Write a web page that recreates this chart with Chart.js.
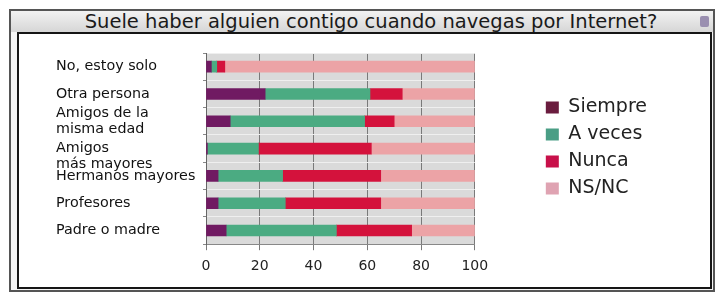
<!DOCTYPE html>
<html lang="es">
<head>
    <meta charset="UTF-8">
    <title>Suele haber alguien contigo</title>
    <script src="https://cdn.jsdelivr.net/npm/chart.js"></script>
    <style>
        body { margin: 0; background: #fff; font-family: "DejaVu Sans", Verdana, sans-serif; }
        #frame { position: absolute; left: 9px; top: 9px; width: 702px; height: 279px;
                 border: 2px solid #555; background: #f4f4f4; }
        #title { position: absolute; left: 0; top: 0; width: 100%; height: 21px; line-height: 22px;
                 text-align: center; font-size: 19.5px; color: #1a1a1a; text-indent: 18px;
                 background: linear-gradient(#f2f2f2, #d6d6d6); }
        #icon { position: absolute; right: 4px; top: 5px; width: 9px; height: 11px;
                background: #9a8fb0; border-radius: 2px; }
        #box { position: absolute; left: 6px; top: 21px; width: 691px; height: 253px;
               border: 2px solid #151515; background: #fff; }
    </style>
</head>
<body>
    <div id="frame">
        <div id="title">Suele haber alguien contigo cuando navegas por Internet?</div>
        <div id="icon"></div>
        <div id="box"><canvas id="chart" width="691" height="253"></canvas></div>
    </div>
    <script>
        // categories (top to bottom) and series, in percent
        var categorias = ['No, estoy solo', 'Otra persona', ['Amigos de la', 'misma edad'],
                          ['', 'Amigos', 'más mayores'], 'Hermanos mayores', 'Profesores', 'Padre o madre'];
        var siempre = [2, 22, 9, 0.5, 4.5, 4.5, 7.5];
        var aVeces  = [2, 39, 50, 19, 24, 25, 41];
        var nunca   = [3, 12, 11, 42, 36.5, 35.5, 28];
        var nsnc    = [93, 27, 30, 38.5, 35, 35, 23.5];
        var ticksX  = [0, 20, 40, 60, 80, 100];

        var barColors    = ['#701a62', '#4bab82', '#d4123c', '#eca3a6'];
        var legendColors = ['#6a1c3e', '#4a9e85', '#c8104a', '#dfa3b2'];

        // grey plot background
        var plotBg = {
            id: 'plotBg',
            beforeDraw: function (chart) {
                var a = chart.chartArea, c = chart.ctx;
                c.save();
                c.fillStyle = '#dadada';
                c.fillRect(a.left, a.top, a.right - a.left, a.bottom - a.top);
                c.restore();
            }
        };

        function serie(label, data, color) {
            return { label: label, data: data, backgroundColor: color, borderWidth: 0,
                     barThickness: 11, xAxisID: 'x', yAxisID: 'y' };
        }

        new Chart(document.getElementById('chart'), {
            type: 'bar',
            data: {
                labels: categorias,
                datasets: [
                    serie('Siempre', siempre, barColors[0]),
                    serie('A veces', aVeces, barColors[1]),
                    serie('Nunca', nunca, barColors[2]),
                    serie('NS/NC', nsnc, barColors[3])
                ]
            },
            options: {
                indexAxis: 'y',
                responsive: false,
                animation: false,
                layout: { padding: { top: 19, left: 37, right: 53, bottom: 4 } },
                scales: {
                    x: {
                        stacked: true, min: 0, max: 100,
                        afterBuildTicks: function (s) { s.ticks = ticksX.map(function (v) { return { value: v }; }); },
                        grid: { color: '#7a7a7a', tickColor: '#7a7a7a', tickLength: 6 },
                        border: { color: '#888' },
                        ticks: { color: '#222', font: { family: 'DejaVu Sans', size: 14 }, padding: 8 }
                    },
                    y: {
                        stacked: true,
                        afterFit: function (s) { s.width = 150; },
                        grid: { color: '#efefef', tickColor: '#888', tickLength: 3 },
                        border: { color: '#666' },
                        ticks: { color: '#111', crossAlign: 'far', autoSkip: false,
                                 font: { family: 'DejaVu Sans', size: 14.3, lineHeight: 1.1 }, padding: 6 }
                    },
                    gap: {
                        type: 'category', position: 'right', display: true,
                        afterFit: function (s) { s.width = 63; },
                        grid: { display: false }, border: { display: false },
                        ticks: { display: false }
                    }
                },
                plugins: {
                    legend: {
                        position: 'right',
                        align: 'start',
                        maxWidth: 220,
                        title: { display: true, text: '', font: { size: 10 }, padding: { top: 25, bottom: 0 } },
                        labels: {
                            boxWidth: 13, boxHeight: 12, padding: 8, color: '#222',
                            font: { family: 'DejaVu Sans', size: 19 },
                            generateLabels: function (chart) {
                                var items = Chart.defaults.plugins.legend.labels.generateLabels(chart);
                                items.forEach(function (it, i) { it.fillStyle = legendColors[i]; it.strokeStyle = legendColors[i]; });
                                return items;
                            }
                        }
                    },
                    tooltip: { enabled: false }
                }
            },
            plugins: [plotBg]
        });
    </script>
</body>
</html>
